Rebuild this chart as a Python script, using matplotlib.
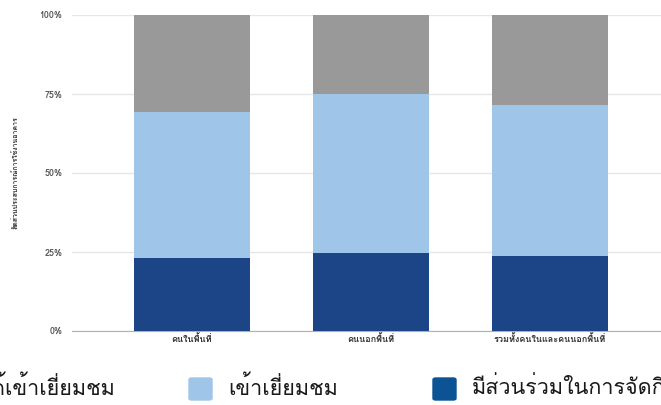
import matplotlib
matplotlib.use("Agg")
import matplotlib.pyplot as plt
from matplotlib import font_manager
from matplotlib.patches import FancyBboxPatch
from matplotlib.ticker import PercentFormatter

# data
categories = ["คนในพื้นที่", "คนนอกพื้นที่", "รวมทั้งคนในและคนนอกพื้นที่"]
participated = [0.23, 0.247, 0.236]
visited = [0.462, 0.503, 0.478]
not_visited = [0.308, 0.25, 0.286]
series_names = ["ไม่ได้เข้าเยี่ยมชม", "เข้าเยี่ยมชม", "มีส่วนร่วมในการจัดกิจกรรม"]
y_title = "สัดส่วนประสบการณ์การใช้งานอาคาร"

# look for any font that can draw Thai
thai = []
for f in font_manager.fontManager.ttflist:
    if "Thai" in f.name or f.name in ("Loma", "Garuda", "Kinnari", "Norasi", "Sawasdee",
                                      "Tlwg Typo", "Umpush", "Waree", "Laksaman"):
        if f.name not in thai:
            thai.append(f.name)
fams = thai + ["DejaVu Sans"]
plt.rcParams["font.family"] = fams

W, H = 661, 405
fig = plt.figure(figsize=(W / 100, H / 100), dpi=100)
ax = fig.add_axes([72 / W, 1 - 331 / H, 598 / W, 316 / H])

x = range(len(categories))
w = 0.65
ax.bar(x, participated, w, color="#1c4587", zorder=3)
ax.bar(x, visited, w, bottom=participated, color="#9fc5e8", zorder=3)
tops = [a + b for a, b in zip(participated, visited)]
ax.bar(x, not_visited, w, bottom=tops, color="#999999", zorder=3)

ax.set_xlim(-0.67, 2.67)
ax.set_ylim(0, 1)
ax.set_yticks([0, 0.25, 0.5, 0.75, 1.0])
ax.yaxis.set_major_formatter(PercentFormatter(1.0, decimals=0))
ax.grid(axis="y", color="#e6e6e6", lw=1, zorder=0)
for s in ["top", "right", "left"]:
    ax.spines[s].set_visible(False)
ax.spines["bottom"].set_color("#b0b0b0")
ax.tick_params(length=0, labelsize=6.5, colors="#555555", pad=7)
for t in ax.get_yticklabels():
    t.set_fontweight("bold")
ax.set_xticks(list(x))
ax.set_xticklabels(categories, fontsize=6.5, fontweight="bold", color="#333333")
ax.tick_params(axis="x", pad=2)
ax.set_ylabel(y_title, fontsize=5, fontweight="bold", color="#333333", labelpad=15)

# legend along the bottom, partly cut off at the edges
# (the first entry's swatch sits off the left edge)
leg_colors = ["#999999", "#9fc5e8", "#0b5394"]
text_x = [115, 228, 472]
for name, col, tx in zip(series_names, leg_colors, text_x):
    if tx == 115:
        fig.text(tx / W, 1 - 388 / H, name, fontsize=15.5, ha="right", va="center", color="#1a1a1a")
        continue
    fig.patches.append(FancyBboxPatch(((tx - 39) / W, 1 - 400 / H), 23 / W, 22 / H,
                                      boxstyle="round,pad=0,rounding_size=0.004",
                                      transform=fig.transFigure, color=col, figure=fig))
    fig.text(tx / W, 1 - 388 / H, name, fontsize=15.5, ha="left", va="center", color="#1a1a1a")

fig.savefig("out.png", dpi=100)
